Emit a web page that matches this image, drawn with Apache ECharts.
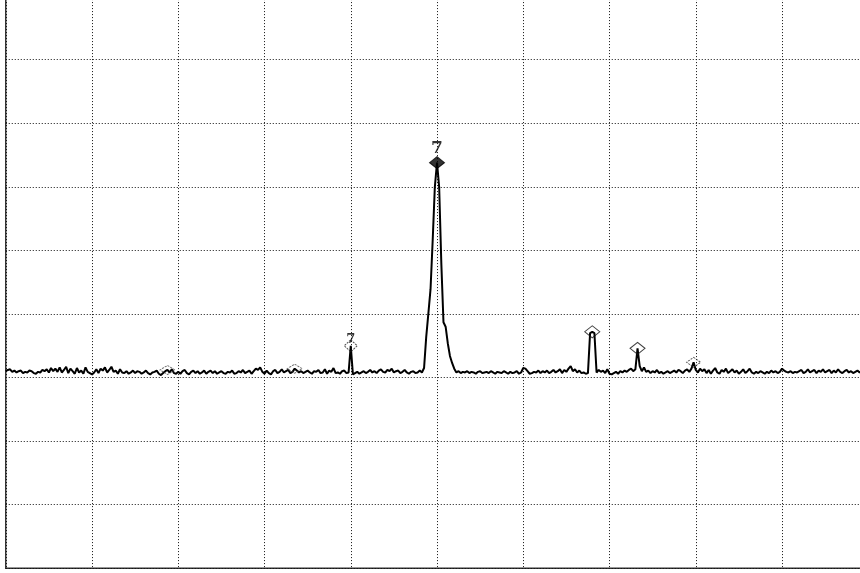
<!DOCTYPE html>
<html><head><meta charset="utf-8">
<script src="https://cdn.jsdelivr.net/npm/echarts@6/dist/echarts.min.js"></script>
<style>html,body{margin:0;padding:0;background:#fff;overflow:hidden;width:860px;height:573px}
#c{position:absolute;left:0;top:-4px;width:872px;height:580px}</style>
</head><body><div id="c"></div>
<script>
// Trace amplitude in dB, 401 points across 10 horizontal divisions
const traceDb = [
-59.0,-58.8,-58.7,-59.1,-58.9,-59.2,-59.0,-58.9,-59.3,-59.1,-59.2,-58.9,-59.0,-59.3,-59.4,-59.1,-59.2,-58.8,-59.0,-58.7,
-59.2,-58.5,-59.0,-58.6,-59.1,-58.4,-59.2,-58.8,-58.3,-59.3,-58.6,-59.0,-59.4,-58.5,-59.2,-58.9,-59.4,-58.4,-59.1,-59.3,
-59.5,-59.2,-58.7,-59.3,-58.6,-58.9,-58.4,-59.2,-58.8,-58.3,-59.1,-58.9,-59.4,-58.7,-59.2,-59.3,-59.0,-59.4,-59.2,-58.9,
-59.3,-59.0,-59.1,-59.4,-59.2,-58.9,-59.3,-59.5,-59.2,-59.1,-58.9,-59.4,-59.6,-59.3,-59.0,-58.8,-59.2,-58.7,-59.3,-59.4,
-59.1,-59.4,-59.0,-58.8,-59.3,-59.5,-59.1,-58.9,-59.3,-59.0,-59.4,-59.2,-58.9,-59.4,-59.1,-58.9,-59.3,-59.0,-59.4,-59.2,
-59.0,-59.3,-59.4,-59.1,-59.2,-58.9,-59.4,-59.3,-59.0,-59.2,-58.8,-59.3,-59.1,-58.9,-59.4,-59.0,-58.6,-58.8,-58.4,-59.1,
-59.4,-58.9,-59.3,-59.5,-59.0,-58.8,-59.3,-59.1,-58.7,-59.2,-59.0,-58.8,-59.3,-59.1,-58.6,-58.9,-59.2,-59.0,-59.3,-59.1,
-58.9,-59.2,-59.4,-59.0,-59.1,-58.8,-59.3,-59.2,-58.7,-59.4,-58.9,-59.1,-58.5,-59.3,-59.2,-59.4,-59.0,-58.9,-59.3,-59.2,
-55.0,-59.5,-59.3,-59.1,-59.4,-59.2,-59.0,-59.3,-59.1,-58.8,-59.2,-59.0,-59.3,-58.9,-58.7,-59.1,-59.2,-58.8,-59.0,-58.6,
-59.2,-59.0,-58.9,-59.3,-59.1,-58.8,-59.2,-59.4,-59.1,-59.0,-59.3,-59.2,-58.9,-59.2,-58.5,-53.6,-49.9,-46.1,-38.4,-30.0,
-26.2,-30.0,-42.0,-51.3,-52.0,-54.6,-56.6,-57.7,-58.6,-59.2,-59.0,-59.3,-59.1,-59.2,-59.0,-59.3,-59.1,-59.2,-59.4,-59.1,
-59.0,-59.3,-59.2,-59.1,-59.3,-59.0,-59.2,-59.4,-59.1,-59.2,-59.3,-59.0,-59.2,-59.4,-59.1,-59.3,-59.2,-59.0,-59.4,-59.2,
-58.5,-58.6,-59.0,-59.4,-59.3,-59.1,-59.2,-58.9,-59.3,-59.0,-59.2,-58.9,-59.3,-59.1,-58.8,-59.2,-59.0,-58.7,-59.3,-58.8,
-59.1,-58.6,-58.2,-59.0,-58.7,-59.2,-58.9,-59.3,-59.2,-59.4,-59.3,-53.0,-52.8,-53.0,-59.2,-58.8,-59.1,-58.9,-59.3,-58.7,
-59.4,-59.5,-59.3,-59.1,-59.4,-59.0,-59.2,-58.9,-59.1,-58.8,-58.6,-59.0,-58.7,-55.4,-58.2,-59.0,-58.4,-59.1,-58.9,-59.3,
-59.0,-59.2,-58.8,-59.3,-59.1,-59.4,-59.2,-59.0,-59.3,-59.1,-58.9,-59.2,-58.8,-59.0,-59.3,-58.9,-58.7,-59.1,-58.6,-57.6,
-58.8,-59.2,-58.6,-59.0,-58.7,-59.3,-58.8,-59.4,-58.9,-58.5,-59.2,-59.4,-58.8,-59.1,-58.6,-59.3,-59.0,-58.7,-59.2,-58.9,
-59.4,-59.1,-58.7,-59.3,-59.0,-58.6,-59.2,-59.4,-59.1,-59.3,-59.0,-59.2,-59.4,-59.1,-59.3,-58.9,-59.2,-59.0,-59.3,-59.1,
-58.6,-58.9,-59.1,-59.2,-59.0,-59.3,-59.1,-59.2,-59.0,-58.8,-59.3,-59.1,-58.7,-59.2,-59.0,-58.8,-59.3,-58.9,-59.1,-58.7,
-59.2,-59.0,-58.8,-59.3,-58.9,-59.2,-58.7,-59.1,-59.3,-59.0,-58.8,-59.2,-59.0,-59.3,-59.1,-58.9,-59.2,-59.0,-59.1,-59.2,
-59.0
];
// Markers: trace point index, label text, kind
const markerIndex = [200, 160, 272, 293, 319, 75, 134];
const markerLabel = ['7', '7', '', '', '', '', ''];
const markerKind  = ['active', 'small', 'normal', 'normal', 'dim', 'faint', 'faint'];

const kindStyle = {
  active: {size: [15, 12], item: {color: '#000', borderColor: '#000', borderWidth: 1}, font: 17, dist: -1},
  small:  {size: [13, 12], item: {color: 'rgba(0,0,0,0)', borderColor: '#222', borderWidth: 1, borderType: [2, 1]}, font: 13, dist: -7},
  normal: {size: [15, 12], item: {color: 'rgba(0,0,0,0)', borderColor: '#111', borderWidth: 1}, font: 11, dist: 0},
  dim:    {size: [14, 10], item: {color: 'rgba(0,0,0,0)', borderColor: '#333', borderWidth: 1, borderType: [2, 1]}, font: 11, dist: 0},
  faint:  {size: [15, 9],  item: {color: 'rgba(0,0,0,0)', borderColor: '#444', borderWidth: 1, borderType: [2, 1]}, font: 11, dist: 0}
};

const traceData = traceDb.map((v, i) => [i, v]);
const markerData = markerIndex.map((idx, k) => {
  const st = kindStyle[markerKind[k]];
  return {
    value: [idx, traceDb[idx]],
    symbolSize: st.size,
    itemStyle: st.item,
    label: {
      show: markerLabel[k] !== '',
      formatter: markerLabel[k],
      position: 'top',
      distance: st.dist,
      color: '#000',
      fontFamily: 'DejaVu Serif',
      fontWeight: 'bold',
      fontSize: st.font
    }
  };
});

const gridLine = {show: true, lineStyle: {color: '#111', width: 1, type: [1, 2]}};

const chart = echarts.init(document.getElementById('c'), null, {renderer: 'canvas'});
chart.setOption({
  animation: false,
  backgroundColor: '#fff',
  grid: {left: 5.75, top: 0.1, width: 862.5, height: 572.2, show: true,
         borderColor: '#333', borderWidth: 1.5, backgroundColor: 'rgba(0,0,0,0)'},
  xAxis: {type: 'value', min: 0, max: 400, interval: 40,
          axisLine: {show: false}, axisTick: {show: false}, axisLabel: {show: false},
          splitLine: gridLine},
  yAxis: {type: 'value', min: -90, max: 0, interval: 10,
          axisLine: {show: false}, axisTick: {show: false}, axisLabel: {show: false},
          splitLine: gridLine},
  series: [
    {type: 'line', data: traceData, showSymbol: false, symbol: 'none', z: 3,
     lineStyle: {color: '#000', width: 2}, silent: true},
    {type: 'scatter', data: markerData, symbol: 'diamond', z: 4, silent: true}
  ]
});
</script></body></html>
